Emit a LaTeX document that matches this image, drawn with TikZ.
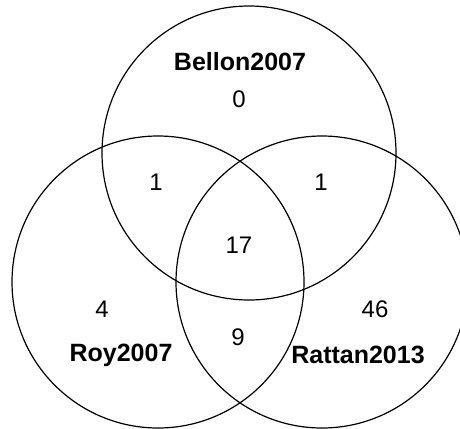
\documentclass[tikz,border=0pt]{standalone}
\usepackage{fontspec}
\setmainfont{Liberation Sans}
\begin{document}
\begin{tikzpicture}[x=1pt,y=-1pt,
  venn/.style={draw=black, line width=1.2pt, circle, inner sep=0pt, minimum size=#1},
  setlabel/.style={font=\fontsize{25}{29}\selectfont\bfseries, inner sep=0pt},
  count/.style={font=\fontsize{24}{28}\selectfont, inner sep=0pt}]
\useasboundingbox (0,0) rectangle (460,428);
\clip (0,0) rectangle (460,428);
\node[venn=294pt] (bellon) at (249,153) {};
\node[venn=292pt] (roy) at (158,282) {};
\node[venn=292pt] (rattan) at (322,282) {};
\node[setlabel] (lbellon) at (240,62) {Bellon2007};
\node[setlabel] (lroy) at (121,355) {Roy2007};
\node[setlabel] (lrattan) at (358,355) {Rattan2013};
\node[count] (n0) at (239,99) {0};
\node[count] (n1a) at (156,182) {1};
\node[count] (n1b) at (321,182) {1};
\node[count] (n17) at (239,245) {17};
\node[count] (n4) at (102,309) {4};
\node[count] (n46) at (375,309) {46};
\node[count] (n9) at (238,337) {9};
\end{tikzpicture}
\end{document}
